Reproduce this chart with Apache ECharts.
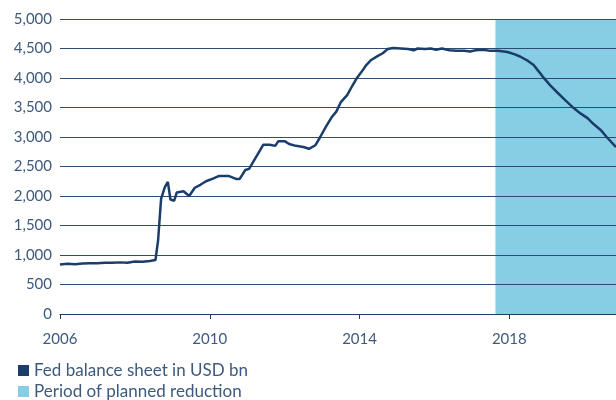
<!DOCTYPE html>
<html>
<head>
<meta charset="utf-8">
<script src="https://cdn.jsdelivr.net/npm/echarts@6/dist/echarts.min.js"></script>
<style>
  html, body { margin: 0; padding: 0; background: #fff; }
  #chart { width: 616px; height: 400px; }
</style>
</head>
<body>
<div id="chart"></div>
<script>
// Fed balance sheet, USD bn
var years = [2006.0, 2006.2, 2006.4, 2006.6, 2006.8, 2007.0, 2007.2, 2007.4, 2007.6, 2007.8,
  2008.0, 2008.2, 2008.4, 2008.55, 2008.62, 2008.7, 2008.8, 2008.88, 2008.95, 2009.05,
  2009.12, 2009.3, 2009.45, 2009.6, 2009.75, 2009.9, 2010.1, 2010.25, 2010.5, 2010.7,
  2010.8, 2010.95, 2011.05, 2011.2, 2011.35, 2011.43, 2011.6, 2011.75, 2011.83, 2012.0,
  2012.12, 2012.3, 2012.5, 2012.65, 2012.82, 2012.95, 2013.1, 2013.25, 2013.38, 2013.5,
  2013.67, 2013.8, 2013.92, 2014.05, 2014.18, 2014.3, 2014.48, 2014.62, 2014.75, 2014.9,
  2015.1, 2015.3, 2015.45, 2015.55, 2015.75, 2015.9, 2016.05, 2016.2, 2016.4, 2016.6,
  2016.8, 2016.95, 2017.1, 2017.3, 2017.5, 2017.7, 2017.95, 2018.15, 2018.3, 2018.5,
  2018.65, 2018.8, 2018.91, 2019.1, 2019.29, 2019.5, 2019.72, 2019.9, 2020.09, 2020.25,
  2020.44, 2020.6, 2020.85];
var balance = [840, 850, 845, 855, 860, 860, 870, 870, 875, 870,
  890, 885, 900, 915, 1250, 1950, 2150, 2240, 1940, 1920,
  2060, 2080, 2000, 2140, 2190, 2250, 2300, 2340, 2340, 2290,
  2290, 2440, 2460, 2620, 2780, 2870, 2870, 2850, 2930, 2930,
  2880, 2850, 2830, 2800, 2860, 3000, 3170, 3330, 3430, 3590,
  3710, 3860, 3990, 4100, 4220, 4300, 4370, 4420, 4490, 4510,
  4500, 4490, 4470, 4500, 4490, 4500, 4480, 4500, 4470, 4460,
  4460, 4450, 4470, 4480, 4460, 4460, 4440, 4400, 4360, 4290,
  4220, 4100, 4010, 3870, 3750, 3620, 3490, 3400, 3320, 3220,
  3120, 3000, 2830];

// period of planned reduction
var reductionYears = [2017.63, 2020.85];
var reductionTop = [5000, 5000];

var yearTicks = [2006, 2010, 2014, 2018];

var navy = '#1b3d69';
var textColor = '#3d5a7e';

var legendBase = {
  left: 13,
  icon: 'rect',
  itemWidth: 11,
  itemHeight: 11,
  itemGap: 8,
  textStyle: { color: textColor, fontSize: 17, fontFamily: 'Lato' }
};

var chart = echarts.init(document.getElementById('chart'));
chart.setOption({
  animation: false,
  textStyle: { fontFamily: 'Lato' },
  grid: { left: 60, right: 0, top: 19, bottom: 86 },
  legend: [
    Object.assign({}, legendBase, { top: 357, data: ['Fed balance sheet in USD bn'] }),
    Object.assign({}, legendBase, { top: 378, data: ['Period of planned reduction'] })
  ],
  xAxis: {
    type: 'value',
    min: 2006,
    max: 2020.85,
    interval: 4,
    axisLine: { lineStyle: { color: navy, width: 1 } },
    axisTick: { show: true, length: 5, lineStyle: { color: navy } },
    axisLabel: {
      color: textColor, fontSize: 15, margin: 18,
      showMaxLabel: false,
      formatter: function (v) { return yearTicks.indexOf(v) >= 0 ? String(v) : ''; }
    },
    splitLine: { show: false }
  },
  yAxis: {
    type: 'value',
    min: 0,
    max: 5000,
    interval: 500,
    axisLine: { show: false },
    axisTick: { show: false },
    axisLabel: {
      color: textColor, fontSize: 15, margin: 8,
      formatter: function (v) { return v.toLocaleString('en-US'); }
    },
    splitLine: { lineStyle: { color: '#2e4c72', width: 1 } }
  },
  series: [
    {
      name: 'Period of planned reduction',
      type: 'line',
      z: -1,
      showSymbol: false,
      data: reductionYears.map(function (x, i) { return [x, reductionTop[i]]; }),
      itemStyle: { color: '#87cde4' },
      lineStyle: { width: 0 },
      areaStyle: { color: '#87cde4', opacity: 1 }
    },
    {
      name: 'Fed balance sheet in USD bn',
      type: 'line',
      showSymbol: false,
      data: years.map(function (x, i) { return [x, balance[i]]; }),
      itemStyle: { color: navy },
      lineStyle: { color: navy, width: 2.5 }
    }
  ]
});
</script>
</body>
</html>
